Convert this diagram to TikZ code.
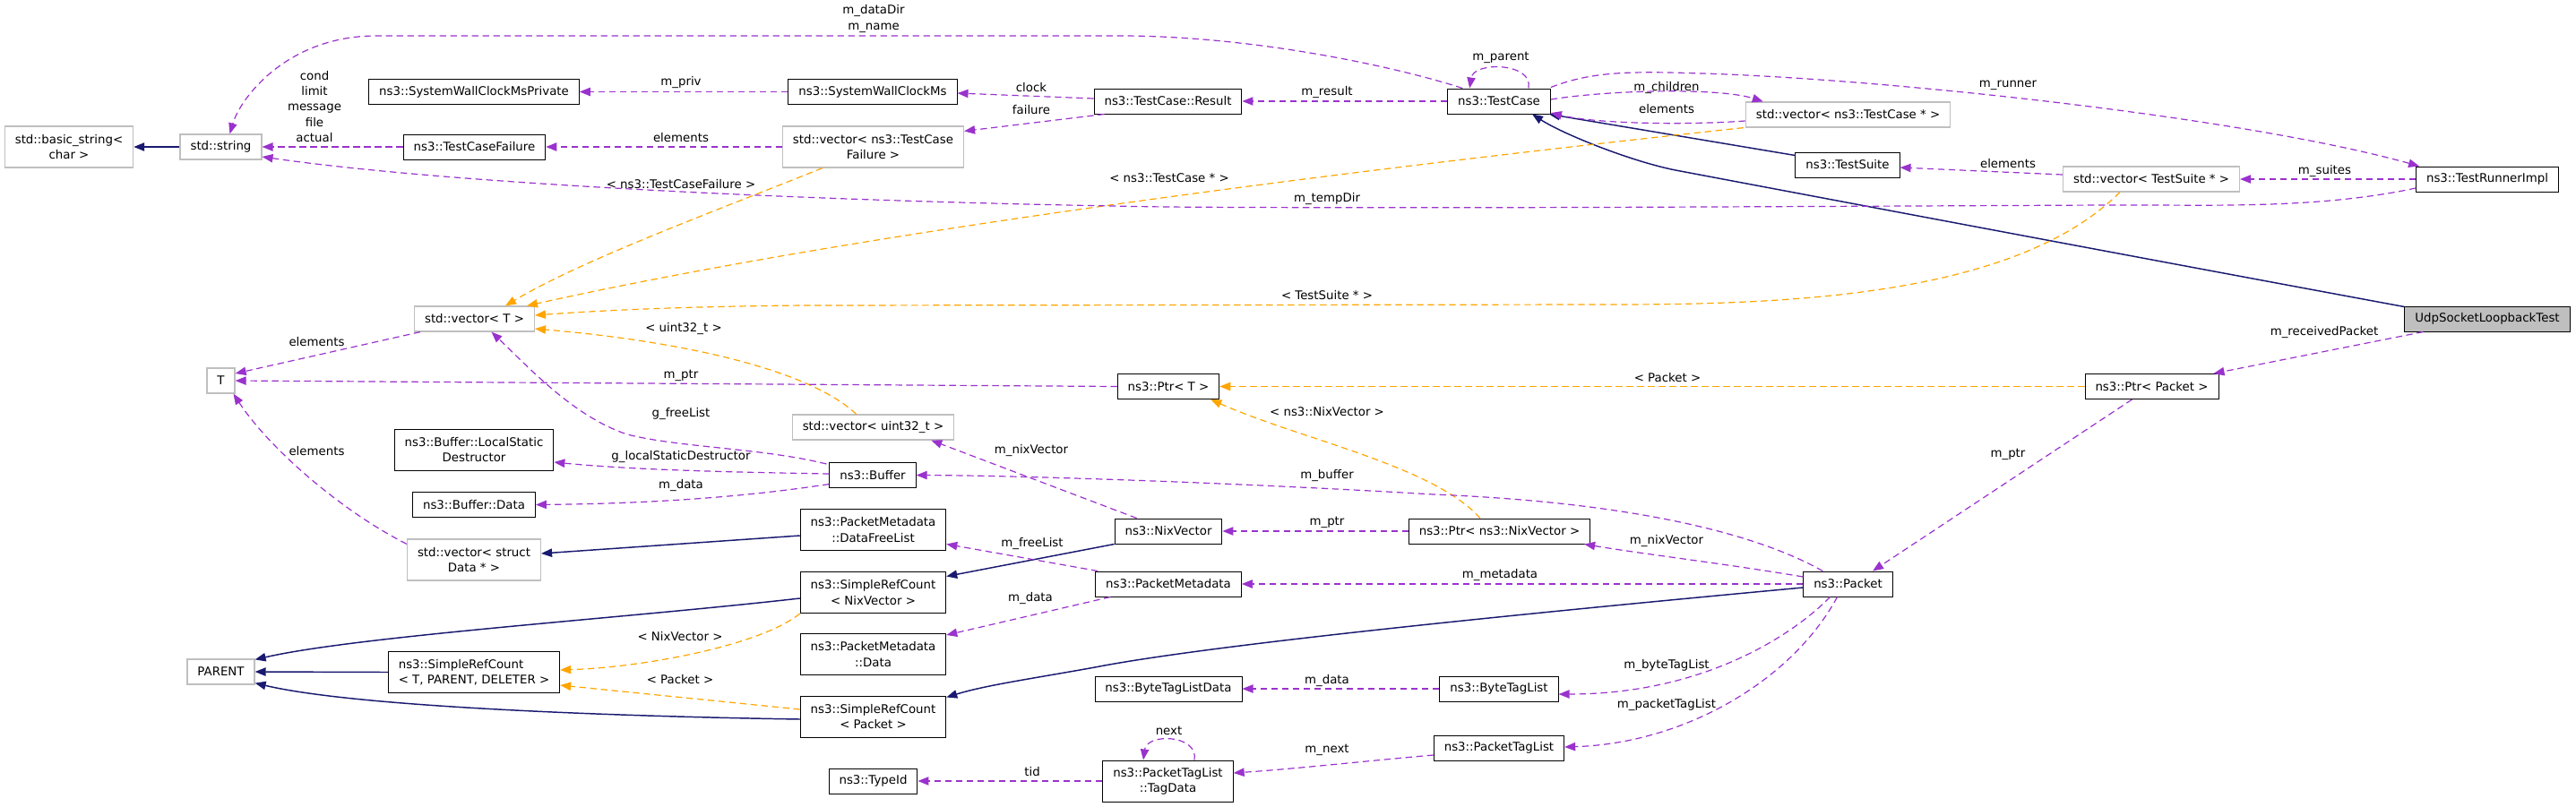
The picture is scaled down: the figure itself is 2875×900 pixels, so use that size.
\documentclass[tikz,border=0pt]{standalone}
\usepackage{fontspec}
\setmainfont{DejaVu Sans}
\usetikzlibrary{arrows.meta,calc}
\definecolor{depcol}{HTML}{9A32CD}
\definecolor{tplcol}{HTML}{FFA500}
\definecolor{inhcol}{HTML}{191970}
\definecolor{undoc}{HTML}{BFBFBF}

\begin{document}
\begin{tikzpicture}[x=0.75pt, y=-0.75pt,
    font=\fontsize{10}{13}\selectfont,
    cls/.style={draw=black, line width=0.75pt, inner xsep=8.6pt, inner ysep=3pt, minimum height=21pt},
    ext/.style={cls, draw=undoc, line width=0.9pt},
    two/.style={minimum height=34.5pt, align=center},
    lbl/.style={inner sep=0pt, align=center},
    tip/.style={-{Triangle[length=9pt,width=7pt]}},
    dep/.style={tip, draw=depcol, line width=0.9pt, dash pattern=on 5.5pt off 3.5pt},
    tpl/.style={dep, draw=tplcol},
    inh/.style={tip, draw=inhcol, line width=1.1pt}]
    \useasboundingbox (0,0) rectangle (2875,900);

    % classes
    \node[ext, two] (basic) at (77,164) {std::basic\_string<\\char >};
    \node[ext] (strng) at (246.5,164) {std::string};
    \node[cls] (wcpriv) at (529,102.5) {ns3::SystemWallClockMsPrivate};
    \node[cls] (tcfail) at (529.5,164) {ns3::TestCaseFailure};
    \node[cls] (wclock) at (974,102.5) {ns3::SystemWallClockMs};
    \node[ext, two] (vfail) at (974.5,164) {std::vector< ns3::TestCase\\Failure >};
    \node[cls] (result) at (1303.5,113) {ns3::TestCase::Result};
    \node[cls] (tcase) at (1673,113) {ns3::TestCase};
    \node[ext] (vtcase) at (2062.5,128) {std::vector< ns3::TestCase * >};
    \node[cls] (tsuite) at (2062,184) {ns3::TestSuite};
    \node[ext] (vsuite) at (2401,200) {std::vector< TestSuite * >};
    \node[cls] (runner) at (2776,200) {ns3::TestRunnerImpl};
    \node[cls, fill=undoc] (udp) at (2776,356) {UdpSocketLoopbackTest};
    \node[cls] (ptrpkt) at (2401.5,431.5) {ns3::Ptr< Packet >};
    \node[ext] (vecT) at (529.5,356) {std::vector< T >};
    \node[ext] (tT) at (246.5,425) {T};
    \node[cls] (ptrT) at (1304,431.5) {ns3::Ptr< T >};
    \node[ext] (vu32) at (974.5,477) {std::vector< uint32\_t >};
    \node[cls, two] (lsd) at (529,502) {ns3::Buffer::LocalStatic\\Destructor};
    \node[cls] (buffer) at (974,530.5) {ns3::Buffer};
    \node[cls] (bdata) at (529,563.5) {ns3::Buffer::Data};
    \node[ext, two] (vdata) at (529,625) {std::vector< struct\\Data * >};
    \node[cls, two] (freelst) at (974.5,591.5) {ns3::PacketMetadata\\::DataFreeList};
    \node[cls] (nixv) at (1304,593) {ns3::NixVector};
    \node[cls] (ptrnix) at (1673.5,593) {ns3::Ptr< ns3::NixVector >};
    \node[cls] (packet) at (2062.5,652) {ns3::Packet};
    \node[cls, two] (srcnix) at (974.5,661.5) {ns3::SimpleRefCount\\< NixVector >};
    \node[cls] (pmeta) at (1304,652) {ns3::PacketMetadata};
    \node[cls, two] (pmdata) at (974.5,730.5) {ns3::PacketMetadata\\::Data};
    \node[ext] (parent) at (246.5,750) {PARENT};
    \node[cls, two, align=left] (srcT) at (529,750.5) {ns3::SimpleRefCount\\< T, PARENT, DELETER >};
    \node[cls, two] (srcpkt) at (974.5,800) {ns3::SimpleRefCount\\< Packet >};
    \node[cls] (btld) at (1304,769) {ns3::ByteTagListData};
    \node[cls] (btl) at (1673,769) {ns3::ByteTagList};
    \node[cls] (ptl) at (1673,835) {ns3::PacketTagList};
    \node[cls, two] (tagdata) at (1303.5,872) {ns3::PacketTagList\\::TagData};
    \node[cls] (typeid) at (974.5,872) {ns3::TypeId};

    % inheritance
    \draw[inh] (strng.west) -- (basic.east);
    \draw[inh] ($(tsuite.north west)+(0,4)$) -- ($(tcase.south east)+(-2,0)$);
    \draw[inh] ($(udp.north west)+(0,1)$) .. controls (2400,290) and (2050,224) .. (1870,190)
        .. controls (1820,180) and (1745,150) .. ($(tcase.south)+(37,0)$);
    \draw[inh] ($(freelst.west)+(0,6.5)$) -- ($(vdata.east)+(0,-7)$);
    \draw[inh] (nixv.south west) -- ($(srcnix.east)+(0,-18)$);
    \draw[inh] ($(packet.west)+(0,4)$) .. controls (1700,685) and (1350,720) .. (1222,745)
        .. controls (1150,758) and (1100,765) .. ($(srcpkt.north east)+(0,2)$);
    \draw[inh] (srcT.west) -- (parent.east);
    \draw[inh] ($(srcnix.west)+(0,6.5)$) .. controls (700,690) and (400,710) .. ($(parent.north east)+(0,1)$);
    \draw[inh] ($(srcpkt.west)+(0,3)$) .. controls (700,800) and (400,790) .. ($(parent.south east)+(0,-2)$);

    % template instances
    \draw[tpl] ($(vfail.south west)+(45,0)$) .. controls (800,235) and (650,290) .. ($(vecT.north)+(34.5,0)$);
    \draw[tpl] ($(vtcase.south west)+(-2,0)$) .. controls (1600,180) and (1000,250) .. ($(vecT.north east)+(-9,0)$);
    \draw[tpl] ($(vsuite.south west)+(64,0)$) .. controls (2250,330) and (2000,340) .. (1800,340)
        -- (900,341) .. controls (750,342) and (650,348) .. ($(vecT.east)+(0,-4)$);
    \draw[tpl] ($(vu32.north west)+(72,0)$) .. controls (900,410) and (750,380) .. ($(vecT.east)+(0,11)$);
    \draw[tpl] (ptrpkt.west) -- (ptrT.east);
    \draw[tpl] ($(ptrnix.north west)+(80,0)$) .. controls (1600,520) and (1450,490) .. ($(ptrT.south east)+(-10,0)$);
    \draw[tpl] (srcnix.south west) .. controls (850,720) and (720,745) .. ($(srcT.east)+(0,-2.5)$);
    \draw[tpl] ($(srcpkt.west)+(0,-8)$) -- ($(srcT.east)+(0,14.5)$);

    % members
    \draw[dep] (tcfail.west) -- (strng.east);
    \draw[dep] ($(tcase.north west)+(17,0)$) .. controls (1560,75) and (1400,40) .. (1250,40)
        -- (420,40) .. controls (320,40) and (268,110) .. ($(strng.north)+(10,0)$);
    \draw[dep] (wclock.west) -- (wcpriv.east);
    \draw[dep] (vfail.west) -- (tcfail.east);
    \draw[dep] ($(result.west)+(0,-3)$) -- ($(wclock.east)+(0,1.5)$);
    \draw[dep] ($(result.south west)+(12,0)$) -- ($(vfail.north east)+(0,6)$);
    \draw[dep] (tcase.west) -- (result.east);
    \draw[dep] ($(tcase.north east)+(-25,0)$) .. controls (1712,70) and (1645,68) .. ($(tcase.north west)+(25,0)$);
    \draw[dep] ($(tcase.east)+(0,-2)$) .. controls (1800,100) and (1920,98) .. ($(vtcase.north west)+(20,0)$);
    \draw[dep] ($(vtcase.west)+(0,7)$) .. controls (1880,140) and (1780,138) .. ($(tcase.east)+(0,13)$);
    \draw[dep] ($(tcase.north east)+(0,-1)$) .. controls (1780,78) and (1830,80) .. (1900,82)
        .. controls (2100,88) and (2500,130) .. ($(runner.north west)+(4,0)$);
    \draw[dep] ($(vsuite.west)+(0,-5)$) -- ($(tsuite.east)+(0,3)$);
    \draw[dep] (runner.west) -- (vsuite.east);
    \draw[dep] ($(runner.west)+(0,10)$) .. controls (2580,235) and (2450,228) .. (2350,229)
        .. controls (1900,231) and (1600,233) .. (1300,231)
        .. controls (900,225) and (500,205) .. ($(strng.east)+(0,11)$);
    \draw[dep] ($(udp.south west)+(21,0)$) -- ($(ptrpkt.north east)+(-6,0)$);
    \draw[dep] ($(ptrpkt.south west)+(53,0)$) -- ($(packet.north)+(27.5,0)$);
    \draw[dep] ($(vecT.south west)+(7,0)$) -- ($(tT.east)+(0,-8)$);
    \draw[dep] (ptrT.west) -- (tT.east);
    \draw[dep] ($(buffer.north west)+(-3,2)$) .. controls (850,500) and (760,500) .. (700,485)
        .. controls (640,465) and (590,410) .. ($(vecT.south)+(19,0)$);
    \draw[dep] ($(buffer.west)+(0,-1.5)$) .. controls (800,527) and (700,524) .. ($(lsd.east)+(0,14)$);
    \draw[dep] ($(buffer.west)+(0,10)$) .. controls (850,552) and (750,562) .. (bdata.east);
    \draw[dep] ($(vdata.north west)+(0,6)$) .. controls (380,570) and (300,500) .. ($(tT.south)+(14,0)$);
    \draw[dep] ($(nixv.north west)+(25,0)$) -- ($(vu32.south east)+(-26,0)$);
    \draw[dep] ($(packet.north west)+(22,0)$) .. controls (1950,590) and (1800,560) .. (1600,552)
        .. controls (1400,540) and (1150,531) .. (buffer.east);
    \draw[dep] (ptrnix.west) -- (nixv.east);
    \draw[dep] ($(pmeta.north west)+(3,0)$) -- ($(freelst.east)+(0,16)$);
    \draw[dep] ($(packet.west)+(0,-8)$) .. controls (1930,630) and (1830,618) .. ($(ptrnix.south east)+(-7,0)$);
    \draw[dep] (packet.west) -- (pmeta.east);
    \draw[dep] ($(pmeta.south west)+(17,0)$) -- ($(pmdata.north east)+(0,2)$);
    \draw[dep] (btl.west) -- (btld.east);
    \draw[dep] ($(packet.south)+(-20,0)$) .. controls (2000,710) and (1900,775) .. ($(btl.east)+(0,6)$);
    \draw[dep] ($(packet.south)+(-12,0)$) .. controls (2000,760) and (1880,830) .. ($(ptl.east)+(0,-1)$);
    \draw[dep] ($(ptl.west)+(0,8)$) .. controls (1520,850) and (1450,858) .. ($(tagdata.east)+(0,-9)$);
    \draw[dep] ($(tagdata.north)+(29.5,0)$) .. controls (1338,820) and (1280,818) .. ($(tagdata.north)+(-27.5,0)$);
    \draw[dep] (tagdata.west) -- (typeid.east);

    % edge labels
    \node[lbl] (l-cond) at (351,119) {cond\\limit\\message\\file\\actual};
    \node[lbl] (l-name) at (975,21) {m\_dataDir\\m\_name};
    \node[lbl] (l-priv) at (760,92) {m\_priv};
    \node[lbl] (l-fel) at (760,154) {elements};
    \node[lbl] (l-clock) at (1151,98) {clock};
    \node[lbl] (l-failure) at (1151,123) {failure};
    \node[lbl] (l-result) at (1481,103) {m\_result};
    \node[lbl] (l-parent) at (1675,64) {m\_parent};
    \node[lbl] (l-children) at (1860,98) {m\_children};
    \node[lbl] (l-cel) at (1860,122) {elements};
    \node[lbl] (l-runner) at (2241,95) {m\_runner};
    \node[lbl] (l-sel) at (2241,183) {elements};
    \node[lbl] (l-suites) at (2594.5,191) {m\_suites};
    \node[lbl] (l-temp) at (1481,222) {m\_tempDir};
    \node[lbl] (l-recv) at (2594,371) {m\_receivedPacket};
    \node[lbl] (l-pptr) at (2241,507) {m\_ptr};
    \node[lbl] (l-tel) at (353.5,382) {elements};
    \node[lbl] (l-tptr) at (760,419) {m\_ptr};
    \node[lbl] (l-free) at (760,462) {g\_freeList};
    \node[lbl] (l-lsd) at (760,510) {g\_localStaticDestructor};
    \node[lbl] (l-bdata) at (760,542) {m\_data};
    \node[lbl] (l-del) at (353.5,504) {elements};
    \node[lbl] (l-nixu) at (1151,503) {m\_nixVector};
    \node[lbl] (l-buffer) at (1481,531) {m\_buffer};
    \node[lbl] (l-nptr) at (1481,583) {m\_ptr};
    \node[lbl] (l-flist) at (1152,607) {m\_freeList};
    \node[lbl] (l-nix) at (1860,604) {m\_nixVector};
    \node[lbl] (l-meta) at (1674,642) {m\_metadata};
    \node[lbl] (l-mdata) at (1150,668) {m\_data};
    \node[lbl] (l-btdata) at (1481,760) {m\_data};
    \node[lbl] (l-btl) at (1860,743) {m\_byteTagList};
    \node[lbl] (l-ptl) at (1860,787) {m\_packetTagList};
    \node[lbl] (l-next) at (1481,837) {m\_next};
    \node[lbl] (l-loop) at (1304.5,816) {next};
    \node[lbl] (l-tid) at (1152,862) {tid};
    \node[lbl] (t-fail) at (760,206) {< ns3::TestCaseFailure >};
    \node[lbl] (t-tcase) at (1305,199) {< ns3::TestCase * >};
    \node[lbl] (t-suite) at (1481,330) {< TestSuite * >};
    \node[lbl] (t-u32) at (763,367) {< uint32\_t >};
    \node[lbl] (t-pkt) at (1861,422) {< Packet >};
    \node[lbl] (t-nix) at (1481,460) {< ns3::NixVector >};
    \node[lbl] (t-srcnix) at (759,711) {< NixVector >};
    \node[lbl] (t-srcpkt) at (759,759) {< Packet >};
\end{tikzpicture}
\end{document}
